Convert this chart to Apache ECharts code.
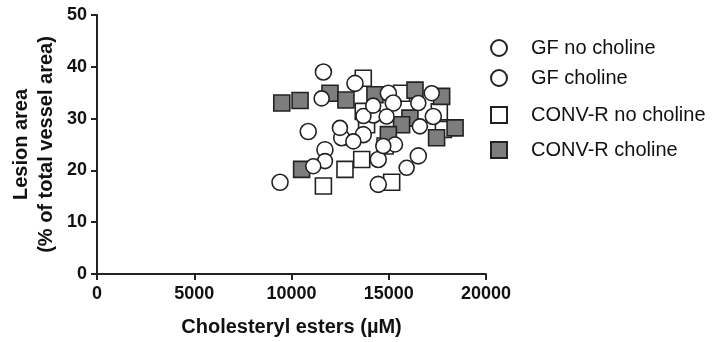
<!DOCTYPE html>
<html>
<head>
<meta charset="utf-8">
<script src="https://cdn.jsdelivr.net/npm/echarts@6/dist/echarts.min.js"></script>
<style>
  html, body { margin: 0; padding: 0; background: #fff; }
  #chart { width: 724px; height: 342px; }
</style>
</head>
<body>
<div id="chart"></div>
<script>
// points: [cholesteryl esters (uM), lesion area (%)]
const gfNoCholine = [
  [11640, 39.0], [13265, 36.8], [14980, 34.9], [15230, 33.0], [14210, 30.7],
  [17290, 30.4], [10860, 27.5], [12580, 26.3], [13690, 26.9], [11720, 24.0],
  [14460, 22.1], [16520, 22.8], [14460, 17.3], [9410, 17.7]
];
const gfCholine = [
  [11550, 33.9], [17210, 34.9], [16520, 33.0], [14890, 30.4], [16600, 28.5],
  [12490, 28.2], [13180, 25.6], [15320, 25.0], [14720, 24.7], [11720, 21.8],
  [11120, 20.8], [15920, 20.5], [13700, 30.5], [14200, 32.5]
];
const convNoCholine = [
  [13690, 37.8], [15660, 34.9], [13690, 31.4], [13860, 28.8], [17810, 27.9],
  [14810, 24.7], [13610, 22.1], [12750, 20.2], [15150, 17.7], [11640, 17.0],
  [17600, 31.3]
];
const convCholine = [
  [9500, 33.0], [10440, 33.5], [11980, 34.9], [12800, 33.6], [14290, 34.6],
  [16350, 35.5], [17720, 34.3], [16090, 30.1], [15660, 28.8], [18410, 28.2],
  [17460, 26.3], [14980, 26.9], [10520, 20.2]
];
const seriesNames = ["GF no choline", "GF choline", "CONV-R no choline", "CONV-R choline"];
const legendTops = [33, 63, 100, 135];

const chart = echarts.init(document.getElementById("chart"), null, { renderer: "canvas" });

const ink = "#222";
const font = "Liberation Sans, Arial, sans-serif";

function pointSeries(name, data, symbol, fill, size) {
  return {
    name: name,
    type: "scatter",
    data: data,
    symbol: symbol,
    symbolSize: size,
    itemStyle: { color: fill, borderColor: ink, borderWidth: 1.6, opacity: 1 },
    emphasis: { disabled: true }
  };
}

const legends = seriesNames.map((name, i) => ({
  data: [name],
  orient: "vertical",
  left: 485,
  top: legendTops[i],
  itemWidth: 16,
  itemHeight: 16,
  selectedMode: false,
  textStyle: { color: "#111", fontSize: 20, fontFamily: font, padding: [0, 0, 0, 19] }
}));

chart.setOption({
  backgroundColor: "#fff",
  animation: false,
  legend: legends,
  grid: { left: 97, right: 238, top: 15, bottom: 67 },
  xAxis: {
    type: "value",
    min: 0,
    max: 20000,
    interval: 5000,
    name: "Cholesteryl esters (\u00b5M)",
    nameLocation: "middle",
    nameGap: 43,
    nameMoveOverlap: false,
    nameTextStyle: { color: "#111", fontSize: 20, fontWeight: "bold", fontFamily: font },
    axisLine: { lineStyle: { color: ink, width: 2 } },
    axisTick: { show: true, length: 6, lineStyle: { color: ink, width: 2 } },
    axisLabel: {
      color: "#111", fontSize: 18, fontWeight: "bold", fontFamily: font, margin: 11,
      formatter: (v) => String(v)
    },
    splitLine: { show: false }
  },
  yAxis: {
    type: "value",
    min: 0,
    max: 50,
    interval: 10,
    name: "Lesion area\n(% of total vessel area)",
    nameLocation: "middle",
    nameGap: 38,
    nameMoveOverlap: false,
    nameTextStyle: { color: "#111", fontSize: 20, fontWeight: "bold", fontFamily: font, lineHeight: 25, align: "center" },
    axisLine: { lineStyle: { color: ink, width: 2 } },
    axisTick: { show: true, length: 6, lineStyle: { color: ink, width: 2 } },
    axisLabel: { color: "#111", fontSize: 18, fontWeight: "bold", fontFamily: font, margin: 10 },
    splitLine: { show: false }
  },
  series: [
    pointSeries("CONV-R no choline", convNoCholine, "rect", "#fff", 16),
    pointSeries("CONV-R choline", convCholine, "rect", "#7d7d7d", 16),
    pointSeries("GF no choline", gfNoCholine, "circle", "#fff", 16),
    pointSeries("GF choline", gfCholine, "circle", "#fff", 15)
  ]
});
</script>
</body>
</html>
